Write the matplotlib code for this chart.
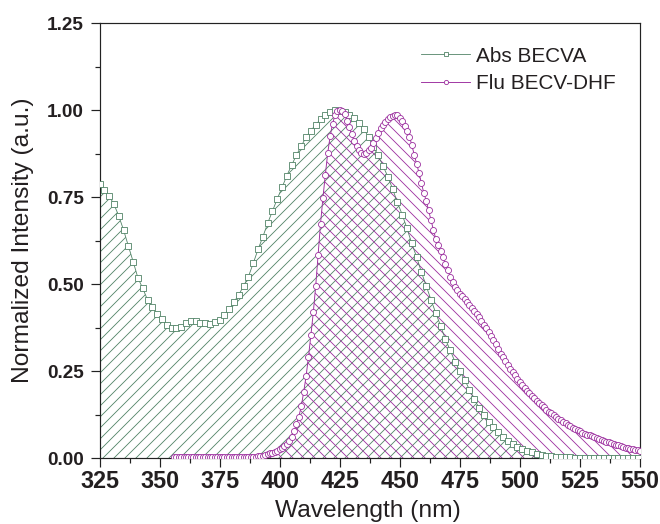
import numpy as np
import matplotlib
matplotlib.use("Agg")
import matplotlib.pyplot as plt
from matplotlib.ticker import MultipleLocator, FormatStrFormatter

# ---------------- data ----------------
abs_wl = list(range(325, 551, 2))
abs_val = [
    0.787, 0.770, 0.753, 0.730, 0.696, 0.656, 0.610, 0.565, 0.518, 0.488,
    0.455, 0.435, 0.415, 0.399, 0.383, 0.373, 0.373, 0.378, 0.388, 0.394,
    0.394, 0.389, 0.388, 0.385, 0.390, 0.397, 0.412, 0.428, 0.449, 0.470,
    0.495, 0.522, 0.560, 0.600, 0.636, 0.675, 0.710, 0.745, 0.778, 0.812,
    0.842, 0.871, 0.897, 0.922, 0.941, 0.958, 0.973, 0.986, 0.995, 1.000,
    0.998, 0.993, 0.985, 0.977, 0.962, 0.947, 0.922, 0.895, 0.870, 0.840,
    0.809, 0.774, 0.735, 0.700, 0.660, 0.617, 0.578, 0.535, 0.495, 0.455,
    0.417, 0.380, 0.342, 0.310, 0.277, 0.250, 0.226, 0.197, 0.170, 0.145,
    0.123, 0.105, 0.090, 0.076, 0.062, 0.050, 0.041, 0.033, 0.028, 0.022,
    0.017, 0.013, 0.010, 0.008, 0.006, 0.005, 0.004, 0.003, 0.003, 0.002,
    0.002, 0.001, 0.001, 0.001, 0.001, 0.001, 0.000, 0.000, 0.000, 0.000,
    0.000, 0.000, 0.000,
]

flu_wl = list(range(356, 551, 1))
flu_val = [
    0.004, 0.004, 0.004, 0.004, 0.004, 0.004, 0.004, 0.004, 0.004, 0.004,
    0.004, 0.004, 0.004, 0.004, 0.004, 0.004, 0.004, 0.004, 0.004, 0.004,
    0.004, 0.004, 0.004, 0.004, 0.004, 0.004, 0.004, 0.004, 0.004, 0.004,
    0.005, 0.005, 0.005, 0.005, 0.005, 0.006, 0.007, 0.008, 0.010, 0.012,
    0.014, 0.016, 0.019, 0.022, 0.026, 0.030, 0.035, 0.042, 0.050, 0.062,
    0.078, 0.098, 0.120, 0.150, 0.190, 0.236, 0.292, 0.354, 0.419, 0.495,
    0.584, 0.673, 0.747, 0.814, 0.876, 0.925, 0.960, 0.985, 0.997, 1.000,
    0.997, 0.988, 0.970, 0.950, 0.930, 0.912, 0.896, 0.884, 0.877, 0.875,
    0.878, 0.884, 0.892, 0.905, 0.920, 0.935, 0.948, 0.958, 0.967, 0.975,
    0.980, 0.984, 0.986, 0.985, 0.978, 0.968, 0.955, 0.940, 0.924, 0.900,
    0.872, 0.846, 0.820, 0.790, 0.762, 0.740, 0.712, 0.685, 0.656, 0.630,
    0.612, 0.595, 0.578, 0.557, 0.540, 0.522, 0.506, 0.493, 0.482, 0.473,
    0.465, 0.457, 0.449, 0.441, 0.433, 0.424, 0.415, 0.405, 0.395, 0.384,
    0.373, 0.363, 0.352, 0.341, 0.327, 0.313, 0.300, 0.290, 0.279, 0.268,
    0.257, 0.248, 0.238, 0.229, 0.220, 0.211, 0.202, 0.194, 0.187, 0.180,
    0.172, 0.165, 0.158, 0.152, 0.146, 0.140, 0.134, 0.129, 0.124, 0.119,
    0.114, 0.109, 0.105, 0.100, 0.096, 0.092, 0.087, 0.083, 0.080, 0.077,
    0.074, 0.071, 0.068, 0.066, 0.063, 0.061, 0.058, 0.056, 0.053, 0.051,
    0.048, 0.046, 0.044, 0.041, 0.039, 0.037, 0.035, 0.033, 0.031, 0.029,
    0.027, 0.026, 0.024, 0.023, 0.022,
]

series_names = ["Abs BECVA", "Flu BECV-DHF"]
x_label = "Wavelength (nm)"
y_label = "Normalized Intensity (a.u.)"

assert len(abs_wl) == len(abs_val)
assert len(flu_wl) == len(flu_val)

# ---------------- style ----------------
DPI = 66
GREEN = "#4f8265"
MAGENTA = "#9b2d9e"
TXT = "#231f20"

plt.rcParams["font.family"] = ["Liberation Sans", "DejaVu Sans"]
plt.rcParams["hatch.linewidth"] = 0.9

fig = plt.figure(figsize=(660 / DPI, 524 / DPI), dpi=DPI)
ax = fig.add_axes([99.5 / 660, 65.7 / 524, 540.5 / 660, 435.3 / 524])

# hatched areas
ax.fill_between(abs_wl, 0, abs_val, facecolor="none", edgecolor=GREEN,
                hatch="//", linewidth=0, zorder=1)
ax.fill_between(flu_wl, 0, flu_val, facecolor="none", edgecolor=MAGENTA,
                hatch="\\\\", linewidth=0, zorder=1)

# lines with markers
ax.plot(abs_wl, abs_val, color=GREEN, lw=0.9, marker="s", ms=5.8,
        mfc="white", mec=GREEN, mew=0.9, label=series_names[0], zorder=3)
ax.plot(flu_wl, flu_val, color=MAGENTA, lw=1.0, marker="o", ms=6.6,
        mfc="white", mec=MAGENTA, mew=0.9, label=series_names[1], zorder=4)

ax.set_xlim(325, 550)
ax.set_ylim(0, 1.25)
ax.xaxis.set_major_locator(MultipleLocator(25))
ax.xaxis.set_minor_locator(MultipleLocator(12.5))
ax.yaxis.set_major_locator(MultipleLocator(0.25))
ax.yaxis.set_minor_locator(MultipleLocator(0.125))
ax.yaxis.set_major_formatter(FormatStrFormatter("%.2f"))

for s in ax.spines.values():
    s.set_linewidth(1.3)
    s.set_color("#222222")

ax.tick_params(axis="both", which="major", direction="out", length=9.8,
               width=1.3, color="#222222")
ax.tick_params(axis="both", which="minor", direction="out", length=5.5,
               width=1.3, color="#222222")
ax.tick_params(top=False, right=False, which="both")
ax.tick_params(axis="x", which="major", pad=3.5, labelsize=25.5, labelcolor=TXT)
ax.tick_params(axis="y", which="major", pad=7, labelsize=20.7, labelcolor=TXT)
for lab in ax.get_xticklabels() + ax.get_yticklabels():
    lab.set_fontweight("bold")

fig.text(368 / 660, 1 - 511 / 524, x_label, ha="center", va="center",
         fontsize=26.7, color=TXT)
fig.text(23 / 660, 1 - 240 / 524, y_label, ha="center", va="center",
         rotation=90, fontsize=26.7, color=TXT)

leg = ax.legend(loc="upper left", bbox_to_anchor=(0.595, 0.946), frameon=False,
                fontsize=22.6, handlelength=2.37, handletextpad=0.3,
                labelspacing=0.42, borderpad=0, borderaxespad=0,
                numpoints=1, markerscale=0.7)
for t in leg.get_texts():
    t.set_color(TXT)

fig.savefig("out.png", dpi=DPI)
